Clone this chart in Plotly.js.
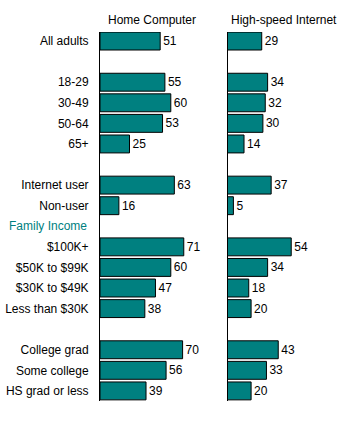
<!DOCTYPE html>
<html>
<head>
<meta charset="utf-8">
<script src="https://cdn.plot.ly/plotly-3.0.1.min.js"></script>
<style>html,body{margin:0;padding:0;background:#fff;}#chart{width:350px;height:422px;}</style>
</head>
<body>
<div id="chart"></div>
<script>
// Data
const categories = ['All adults', '18-29', '30-49', '50-64', '65+', 'Internet user', 'Non-user',
  '$100K+', '$50K to $99K', '$30K to $49K', 'Less than $30K', 'College grad', 'Some college', 'HS grad or less'];
const homeComputer = [51, 55, 60, 53, 25, 63, 16, 71, 60, 47, 38, 70, 56, 39];
const highSpeed = [29, 34, 32, 30, 14, 37, 5, 54, 34, 18, 20, 43, 33, 20];
const seriesNames = ['Home Computer', 'High-speed Internet'];
const groupHeader = 'Family Income';
// Row order on the category axis (blank strings are spacer rows)
const rowOrder = ['All adults', ' ', '18-29', '30-49', '50-64', '65+', '  ', 'Internet user', 'Non-user',
  'Family Income', '$100K+', '$50K to $99K', '$30K to $49K', 'Less than $30K', '   ',
  'College grad', 'Some college', 'HS grad or less'];

const FONT = 'Liberation Sans, Arial, sans-serif';
const TEAL = '#008080';

function barTrace(vals, xa, ya) {
  return {
    type: 'bar', orientation: 'h', x: vals, y: categories, xaxis: xa, yaxis: ya,
    width: 0.87,
    marker: {color: TEAL, line: {color: '#000', width: 1}},
    text: vals.map(String), textposition: 'outside', cliponaxis: false,
    textfont: {family: FONT, size: 12, color: '#000'},
    hoverinfo: 'none', showlegend: false
  };
}

const yRange = [17.49, -0.44];
const yDomain = [1 - 401/422, 1 - 32/422];

const layout = {
  width: 350, height: 422,
  margin: {l: 0, r: 0, t: 0, b: 0},
  paper_bgcolor: '#fff', plot_bgcolor: 'rgba(0,0,0,0)',
  font: {family: FONT, size: 12, color: '#000'},
  bargap: 0,
  xaxis: {domain: [100/350, 218/350], range: [0, 100], visible: false, fixedrange: true},
  xaxis2: {domain: [227.5/350, 345.5/350], range: [0, 100], visible: false, fixedrange: true},
  yaxis: {
    type: 'category', categoryorder: 'array', categoryarray: rowOrder,
    range: yRange, domain: yDomain, anchor: 'x',
    showline: true, linecolor: '#000', linewidth: 1, showgrid: false, zeroline: false,
    ticks: 'outside', ticklen: 8, tickcolor: 'rgba(0,0,0,0)',
    tickmode: 'array', tickvals: categories, ticktext: categories,
    tickfont: {family: FONT, size: 12, color: '#000'}, fixedrange: true
  },
  yaxis2: {
    type: 'category', categoryorder: 'array', categoryarray: rowOrder,
    range: yRange, domain: yDomain, anchor: 'x2',
    showline: true, linecolor: '#000', linewidth: 1, showgrid: false, zeroline: false,
    showticklabels: false, ticks: '', fixedrange: true
  },
  annotations: [
    {text: seriesNames[0], xref: 'paper', yref: 'paper', x: 152/350, y: 1 - 20/422,
     xanchor: 'center', yanchor: 'middle', showarrow: false, font: {family: FONT, size: 12, color: '#000'}},
    {text: seriesNames[1], xref: 'paper', yref: 'paper', x: 284/350, y: 1 - 20/422,
     xanchor: 'center', yanchor: 'middle', showarrow: false, font: {family: FONT, size: 12, color: '#000'}},
    {text: groupHeader, xref: 'paper', yref: 'y', x: 7/350, y: groupHeader,
     xanchor: 'left', yanchor: 'middle', showarrow: false, font: {family: FONT, size: 12, color: TEAL}}
  ]
};

Plotly.newPlot('chart', [barTrace(homeComputer, 'x', 'y'), barTrace(highSpeed, 'x2', 'y2')], layout,
  {staticPlot: true, displayModeBar: false});
</script>
</body>
</html>
